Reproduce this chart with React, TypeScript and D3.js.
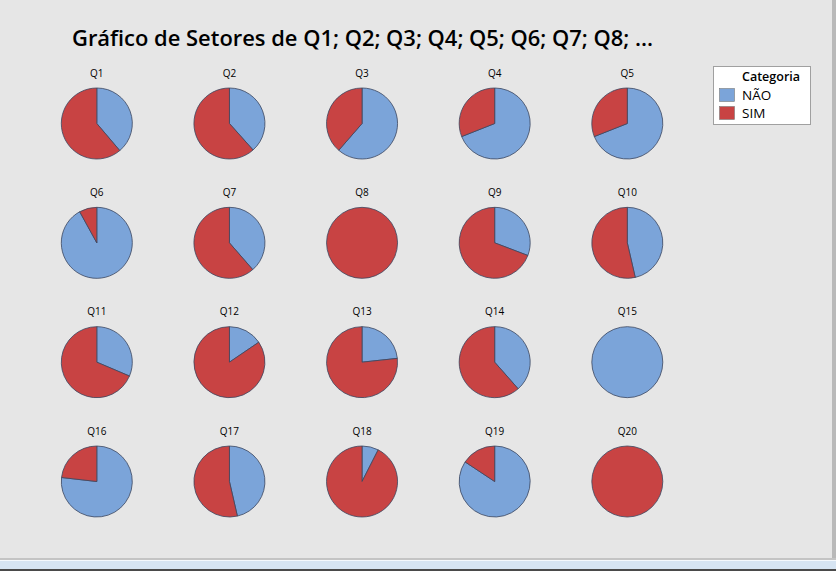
import React from "react";
import * as d3 from "d3";

const questions = ["Q1","Q2","Q3","Q4","Q5","Q6","Q7","Q8","Q9","Q10","Q11","Q12","Q13","Q14","Q15","Q16","Q17","Q18","Q19","Q20"];
const naoShare = [0.388,0.384,0.614,0.69,0.69,0.92,0.386,0,0.308,0.464,0.314,0.155,0.233,0.385,1,0.768,0.464,0.075,0.843,0];
const categories = ["NÃO","SIM"];
const colors = ["#7ba4d9","#c84343"];
const title = "Gráfico de Setores de Q1; Q2; Q3; Q4; Q5; Q6; Q7; Q8; ...";

const W = 836, H = 571;
const FONT = "'Open Sans', 'Noto Sans', sans-serif";

export default function App() {
  const cols = 5, rows = 4;
  const x = d3.scaleLinear().domain([0, cols - 1]).range([96.8, 627.3]);
  const y = d3.scaleLinear().domain([0, rows - 1]).range([123.5, 481.5]);
  const r = 35.5;
  const pie = d3.pie<number>().sort(null).value((d) => d);
  const arc = d3.arc<d3.PieArcDatum<number>>().innerRadius(0).outerRadius(r);
  const color = d3.scaleOrdinal<string, string>().domain(categories).range(colors);

  return (
    <svg width={W} height={H} style={{ position: "absolute", left: 0, top: 0, display: "block" }}>
      <rect x={0} y={0} width={W} height={H} fill="#e6e6e6" />
      <rect x={832} y={0} width={4} height={560} fill="#b9b9b9" />
      <rect x={0} y={558} width={W} height={2} fill="#c4c4c4" />
      <rect x={0} y={560} width={W} height={9} fill="#d6e4f2" />
      <rect x={0} y={560} width={W} height={1} fill="#f4f8fc" />
      <rect x={0} y={569} width={W} height={2} fill="#4a4a4a" />
      <text x={72} y={46} fontFamily={FONT} fontWeight={600} fontSize={21} textLength={581} lengthAdjust="spacingAndGlyphs" fill="#000">{title}</text>
      {questions.map((q, i) => {
        const cx = x(i % cols), cy = y(Math.floor(i / cols));
        const vals = [naoShare[i], 1 - naoShare[i]];
        const arcs = pie(vals);
        return (
          <g key={q}>
            <text x={cx} y={cy - 47} textAnchor="middle" fontFamily={FONT} fontWeight={500} fontSize={10} fill="#000">{q}</text>
            <g transform={`translate(${cx},${cy})`}>
              {arcs.filter((a) => a.value > 0).map((a, j) => (
                a.value >= 1 ? (
                  <circle key={j} r={r} fill={color(categories[a.index])} stroke="#3b4660" strokeWidth={0.8} />
                ) : (
                  <path key={j} d={arc(a) || ""} fill={color(categories[a.index])} stroke="#3b4660" strokeWidth={0.8} strokeLinejoin="round" />
                )
              ))}
            </g>
          </g>
        );
      })}
      <g>
        <rect x={713.5} y={66.5} width={97} height={58} fill="#fff" stroke="#a0a0a0" strokeWidth={1} />
        <text x={742} y={81} fontFamily={FONT} fontWeight={600} fontSize={12.5} fill="#000">Categoria</text>
        {categories.map((c, i) => (
          <g key={c}>
            <rect x={719.5} y={88.5 + i * 18} width={15} height={13} fill={color(c)} stroke="#7a7a7a" strokeWidth={0.6} />
            <text x={742} y={100 + i * 18} fontFamily={FONT} fontWeight={500} fontSize={13.5} fill="#000">{c}</text>
          </g>
        ))}
      </g>
    </svg>
  );
}
